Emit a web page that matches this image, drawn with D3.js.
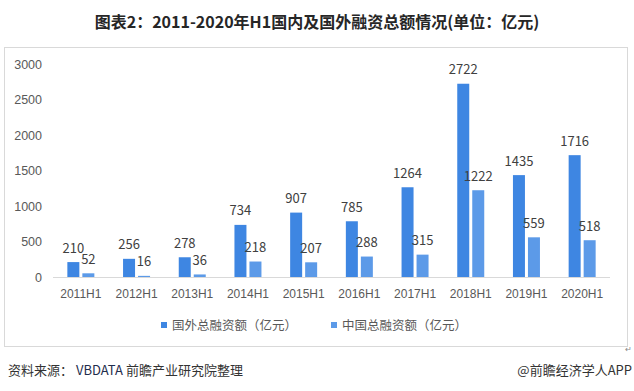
<!DOCTYPE html>
<html><head><meta charset="utf-8">
<script src="https://cdn.jsdelivr.net/npm/d3@7"></script>
<style>body{margin:0;background:#fff;}svg{display:block;font-family:"Noto Sans CJK SC","Noto Sans",sans-serif;}</style>
</head><body>
<script>
const categories = ["2011H1","2012H1","2013H1","2014H1","2015H1","2016H1","2017H1","2018H1","2019H1","2020H1"];
const foreignValues = [210,256,278,734,907,785,1264,2722,1435,1716];
const chinaValues = [52,16,36,218,207,288,315,1222,559,518];
const seriesNames = ["国外总融资额（亿元）","中国总融资额（亿元）"];
const seriesColors = ["#3E86E2","#5C9AE8"];
const yTicks = [0,500,1000,1500,2000,2500,3000];
const titleText = "图表2：2011-2020年H1国内及国外融资总额情况(单位：亿元)";

const W = 634, H = 391;
const svg = d3.select("body").append("svg").attr("width", W).attr("height", H);

svg.append("text").attr("x", 317).attr("y", 28).attr("text-anchor","middle")
  .attr("font-size", 16).attr("font-weight","bold").attr("fill","#262626").text(titleText);

svg.append("rect").attr("x",4.5).attr("y",47.5).attr("width",623).attr("height",299)
  .attr("fill","none").attr("stroke","#d9d9d9").attr("stroke-width",1);

const x = d3.scaleBand().domain(categories).range([53,610]);
const y = d3.scaleLinear().domain([0,3000]).range([277,64]);

const yAxis = svg.append("g").attr("transform","translate(53,0)")
  .call(d3.axisLeft(y).tickValues(yTicks).tickSize(0).tickPadding(11).tickFormat(d3.format("d")));
yAxis.select(".domain").remove();
yAxis.selectAll("text").attr("font-size",12.5).attr("fill","#595959").attr("font-family","inherit");

svg.append("line").attr("x1",53).attr("x2",610).attr("y1",277.5).attr("y2",277.5)
  .attr("stroke","#d9d9d9").attr("stroke-width",1);

const xAxis = svg.append("g").attr("transform","translate(0,277)")
  .call(d3.axisBottom(x).tickSize(0).tickPadding(12));
xAxis.select(".domain").remove();
xAxis.selectAll("text").attr("font-size",12).attr("fill","#595959").attr("font-family","inherit");

const inner = d3.scaleBand().domain([0,1]).range([-13.5,13.5]).paddingInner(0.2);
const seriesData = [foreignValues, chinaValues];
seriesData.forEach((vals, si) => {
  const g = svg.append("g");
  g.selectAll("rect").data(vals).join("rect")
    .attr("x",(d,i)=>x(categories[i]) + x.bandwidth()/2 + inner(si))
    .attr("width", inner.bandwidth())
    .attr("y", d=>y(d)).attr("height", d=>y(0)-y(d))
    .attr("fill", seriesColors[si]);
  g.selectAll("text").data(vals).join("text")
    .attr("x",(d,i)=>x(categories[i]) + x.bandwidth()/2 + inner(si) + inner.bandwidth()/2)
    .attr("y", d=>y(d)-9.5).attr("text-anchor","middle")
    .attr("font-size",13).attr("fill","#404040").text(d=>d);
});

const legendX = [161, 331];
seriesNames.forEach((n,i)=>{
  svg.append("rect").attr("x",legendX[i]).attr("y",322).attr("width",6).attr("height",6).attr("fill",seriesColors[i]);
  svg.append("text").attr("x",legendX[i]+11).attr("y",329.5).attr("font-size",12.5).attr("fill","#595959").text(n);
});

svg.append("text").attr("x",625).attr("y",352).attr("font-size",8).attr("fill","#888").text("↵");

const foot = svg.append("text").attr("x",8).attr("y",375).attr("font-size",13).attr("fill","#333");
foot.append("tspan").text("资料来源： ");
foot.append("tspan").attr("fill","#1f2d4d").text("VBDATA");
foot.append("tspan").text(" 前瞻产业研究院整理");
svg.append("text").attr("x",632).attr("y",375).attr("text-anchor","end").attr("font-size",13).attr("fill","#333").text("@前瞻经济学人APP");
</script>
</body></html>
